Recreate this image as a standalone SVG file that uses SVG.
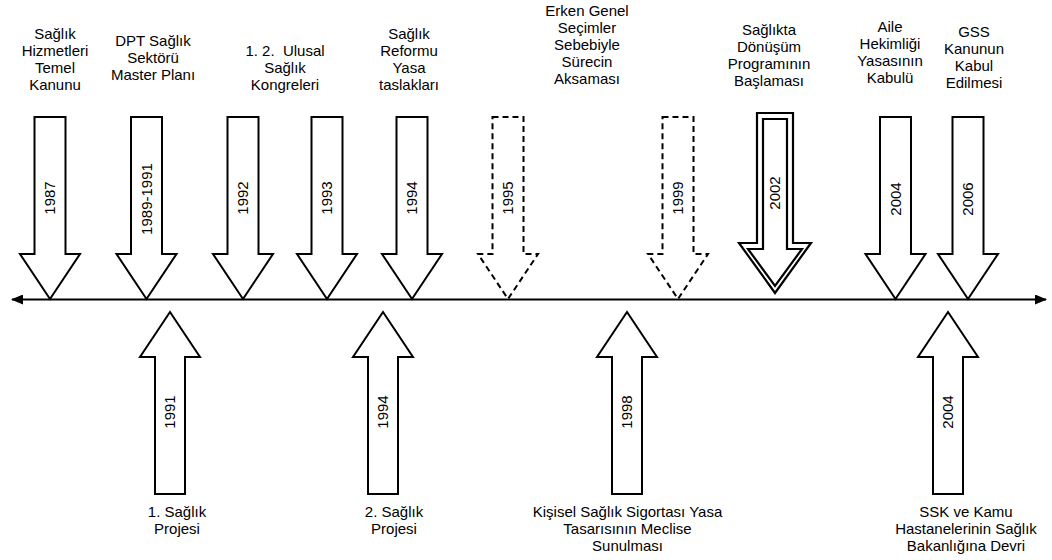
<svg xmlns="http://www.w3.org/2000/svg" width="1052" height="560" viewBox="0 0 1052 560">
  <style>
    .arr { fill: #fff; stroke: #000; stroke-width: 2; stroke-linejoin: miter; }
    .dash { fill: #fff; stroke: #000; stroke-width: 2; stroke-dasharray: 6 4; }
    .dbl { fill: #fff; stroke: #000; stroke-width: 2.2; }
    .t { font-family: "Liberation Sans", Arial, sans-serif; font-size: 15px; text-anchor: middle; fill: #000; }
    .axis { stroke: #000; stroke-width: 2; fill: none; }
  </style>
  <defs>
    <marker id="head" viewBox="0 0 12 10" refX="11" refY="5" markerWidth="12" markerHeight="10" markerUnits="userSpaceOnUse" orient="auto-start-reverse">
      <path d="M0,0 L12,5 L0,10 Z" fill="#000"/>
    </marker>
  </defs>
  <rect width="1052" height="560" fill="#fff"/>

  <!-- time axis -->
  <g id="connectors">
    <line class="axis" x1="12" y1="299.5" x2="1046" y2="299.5" marker-start="url(#head)" marker-end="url(#head)"/>
  </g>

  <!-- events above the axis -->
  <g id="e1987">
    <polygon class="arr" points="34.5,117 65.5,117 65.5,254 80,254 50,299 20,254 34.5,254"/>
    <text class="t" transform="rotate(-90 50 198)" x="50" y="198" dy="0.35em">1987</text>
    <text class="t" x="55" y="39">Sağlık</text>
    <text class="t" x="55" y="56">Hizmetleri</text>
    <text class="t" x="55" y="73">Temel</text>
    <text class="t" x="55" y="90">Kanunu</text>
  </g>
  <g id="e1989">
    <polygon class="arr" points="131,117 162,117 162,254 176.5,254 146.5,299 116.5,254 131,254"/>
    <text class="t" transform="rotate(-90 146.5 199)" x="146.5" y="199" dy="0.35em">1989-1991</text>
    <text class="t" x="153" y="46">DPT Sağlık</text>
    <text class="t" x="153" y="63">Sektörü</text>
    <text class="t" x="153" y="80">Master Planı</text>
  </g>
  <g id="e1992">
    <polygon class="arr" points="227.5,117 258.5,117 258.5,254 273,254 243,299 213,254 227.5,254"/>
    <text class="t" transform="rotate(-90 243 198)" x="243" y="198" dy="0.35em">1992</text>
    <text class="t" x="285" y="56" xml:space="preserve">1. 2.  Ulusal</text>
    <text class="t" x="285" y="73">Sağlık</text>
    <text class="t" x="285" y="90">Kongreleri</text>
  </g>
  <g id="e1993">
    <polygon class="arr" points="311.5,117 342.5,117 342.5,254 357,254 327,299 297,254 311.5,254"/>
    <text class="t" transform="rotate(-90 327 198)" x="327" y="198" dy="0.35em">1993</text>
  </g>
  <g id="e1994a">
    <polygon class="arr" points="396.5,117 427.5,117 427.5,254 442,254 412,299 382,254 396.5,254"/>
    <text class="t" transform="rotate(-90 412 198)" x="412" y="198" dy="0.35em">1994</text>
    <text class="t" x="409" y="39">Sağlık</text>
    <text class="t" x="409" y="56">Reformu</text>
    <text class="t" x="409" y="73">Yasa</text>
    <text class="t" x="409" y="90">taslakları</text>
  </g>
  <g id="e1995">
    <polygon class="dash" points="492.5,117 523.5,117 523.5,254 538,254 508,299 478,254 492.5,254"/>
    <text class="t" transform="rotate(-90 508 198)" x="508" y="198" dy="0.35em">1995</text>
    <text class="t" x="587" y="16">Erken Genel</text>
    <text class="t" x="587" y="33">Seçimler</text>
    <text class="t" x="587" y="50">Sebebiyle</text>
    <text class="t" x="587" y="67">Sürecin</text>
    <text class="t" x="587" y="84">Aksaması</text>
  </g>
  <g id="e1999">
    <polygon class="dash" points="662.5,117 693.5,117 693.5,254 708,254 678,299 648,254 662.5,254"/>
    <text class="t" transform="rotate(-90 678 198)" x="678" y="198" dy="0.35em">1999</text>
  </g>
  <g id="e2002">
    <polygon class="dbl" points="757,113 793,113 793,243 811,243 775,293 739,243 757,243"/>
    <polygon class="dbl" points="763,119 787,119 787,249 802,249 775,286 748,249 763,249"/>
    <text class="t" transform="rotate(-90 775 193)" x="775" y="193" dy="0.35em">2002</text>
    <text class="t" x="769" y="35">Sağlıkta</text>
    <text class="t" x="769" y="52">Dönüşüm</text>
    <text class="t" x="769" y="69">Programının</text>
    <text class="t" x="769" y="86">Başlaması</text>
  </g>
  <g id="e2004a">
    <polygon class="arr" points="880,117 911,117 911,254 925.5,254 895.5,299 865.5,254 880,254"/>
    <text class="t" transform="rotate(-90 895.5 199)" x="895.5" y="199" dy="0.35em">2004</text>
    <text class="t" x="890" y="32">Aile</text>
    <text class="t" x="890" y="49">Hekimliği</text>
    <text class="t" x="890" y="66">Yasasının</text>
    <text class="t" x="890" y="83">Kabulü</text>
  </g>
  <g id="e2006">
    <polygon class="arr" points="952.5,117 983.5,117 983.5,254 998,254 968,299 938,254 952.5,254"/>
    <text class="t" transform="rotate(-90 968 199)" x="968" y="199" dy="0.35em">2006</text>
    <text class="t" x="974" y="37">GSS</text>
    <text class="t" x="974" y="54">Kanunun</text>
    <text class="t" x="974" y="71">Kabul</text>
    <text class="t" x="974" y="88">Edilmesi</text>
  </g>

  <!-- events below the axis -->
  <g id="e1991">
    <polygon class="arr" points="170,312 200,357 185,357 185,494 155,494 155,357 140,357"/>
    <text class="t" transform="rotate(-90 170 412)" x="170" y="412" dy="0.35em">1991</text>
    <text class="t" x="177" y="517">1. Sağlık</text>
    <text class="t" x="177" y="534">Projesi</text>
  </g>
  <g id="e1994b">
    <polygon class="arr" points="383,312 413,357 398,357 398,494 368,494 368,357 353,357"/>
    <text class="t" transform="rotate(-90 383 412)" x="383" y="412" dy="0.35em">1994</text>
    <text class="t" x="394" y="517">2. Sağlık</text>
    <text class="t" x="394" y="534">Projesi</text>
  </g>
  <g id="e1998">
    <polygon class="arr" points="627,312 657,357 642,357 642,494 612,494 612,357 597,357"/>
    <text class="t" transform="rotate(-90 627 412)" x="627" y="412" dy="0.35em">1998</text>
    <text class="t" x="627.5" y="517">Kişisel Sağlık Sigortası Yasa</text>
    <text class="t" x="627.5" y="534">Tasarısının Meclise</text>
    <text class="t" x="627.5" y="551">Sunulması</text>
  </g>
  <g id="e2004b">
    <polygon class="arr" points="948,312 978,357 963,357 963,494 933,494 933,357 918,357"/>
    <text class="t" transform="rotate(-90 948 412)" x="948" y="412" dy="0.35em">2004</text>
    <text class="t" x="966" y="517">SSK ve Kamu</text>
    <text class="t" x="966" y="534">Hastanelerinin Sağlık</text>
    <text class="t" x="966" y="551">Bakanlığına Devri</text>
  </g>
</svg>
